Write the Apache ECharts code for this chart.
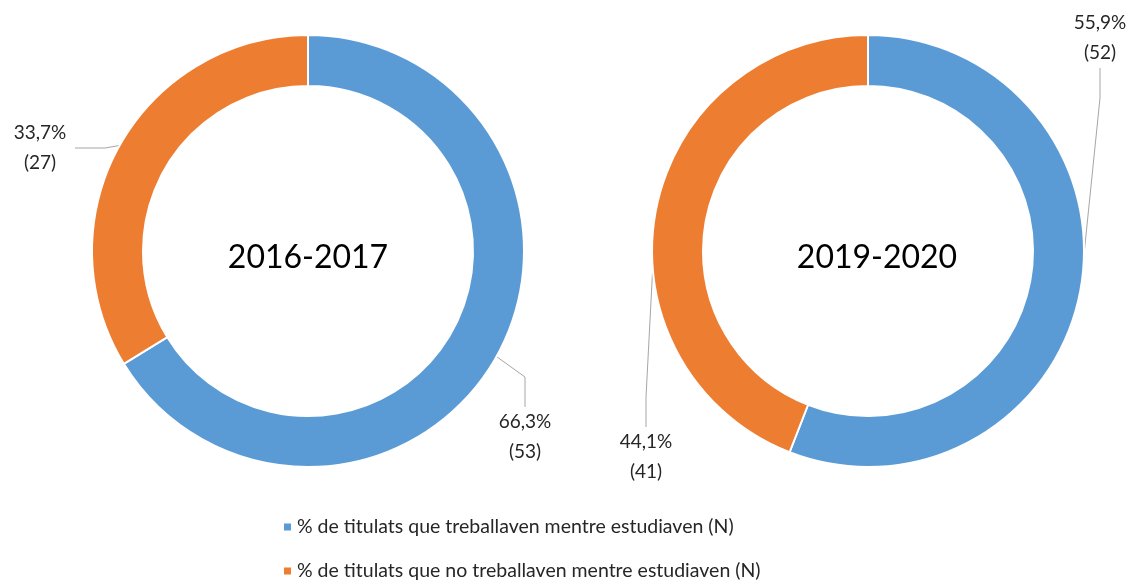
<!DOCTYPE html>
<html>
<head>
<meta charset="utf-8">
<script src="https://cdn.jsdelivr.net/npm/echarts@6/dist/echarts.min.js"></script>
<style>
  html, body { margin: 0; padding: 0; background: #fff; }
  #chart { width: 1137px; height: 588px; }
</style>
</head>
<body>
<div id="chart"></div>
<script>
// data
const categories = [
  "% de titulats que treballaven mentre estudiaven (N)",
  "% de titulats que no treballaven mentre estudiaven (N)"
];
const years = ["2016-2017", "2019-2020"];
const counts1617 = [53, 27];
const pct1617 = ["66,3%", "33,7%"];
const counts1920 = [52, 41];
const pct1920 = ["55,9%", "44,1%"];

const colors = ["#5B9BD5", "#ED7D31"];
const font = "Lato, 'Open Sans', sans-serif";

// label anchor positions (px) per series, per slice
const labelPos = [
  [{ x: 525, y: 437 }, { x: 40, y: 148 }],
  [{ x: 1100, y: 38 }, { x: 646, y: 457 }]
];

const makeSeries = (idx, counts, pct, cx) => ({
  type: "pie",
  center: [cx, 251],
  radius: [165, 216],
  startAngle: 90,
  clockwise: true,
  silent: true,
  itemStyle: { borderColor: "#fff", borderWidth: 2 },
  label: {
    show: true,
    position: "outside",
    color: "#262626",
    fontFamily: font,
    fontSize: 19,
    lineHeight: 30,
    width: 70,
    overflow: "none",
    align: "center",
    formatter: (p) => pct[p.dataIndex] + "\n(" + counts[p.dataIndex] + ")"
  },
  labelLine: {
    show: true,
    lineStyle: { color: "#a6a6a6", width: 1 }
  },
  labelLayout: (p) => ({
    x: labelPos[idx][p.dataIndex].x,
    y: labelPos[idx][p.dataIndex].y,
    align: "center",
    verticalAlign: "middle"
  }),
  data: counts.map((v, i) => ({
    name: categories[i],
    value: v,
    itemStyle: { color: colors[i] }
  }))
});

const chart = echarts.init(document.getElementById("chart"));
chart.setOption({
  backgroundColor: "#fff",
  animation: false,
  title: [
    {
      text: years[0], left: 308, top: 258, padding: 0,
      textAlign: "center", textVerticalAlign: "middle",
      textStyle: { fontFamily: font, fontSize: 32, fontWeight: "normal", color: "#000" }
    },
    {
      text: years[1], left: 877, top: 258, padding: 0,
      textAlign: "center", textVerticalAlign: "middle",
      textStyle: { fontFamily: font, fontSize: 32, fontWeight: "normal", color: "#000" }
    }
  ],
  legend: {
    orient: "vertical",
    left: 277,
    top: 512,
    itemWidth: 9,
    itemHeight: 9,
    itemGap: 24,
    icon: "rect",
    data: categories,
    textStyle: { fontFamily: font, fontSize: 19.5, color: "#262626" }
  },
  series: [
    makeSeries(0, counts1617, pct1617, 308),
    makeSeries(1, counts1920, pct1920, 868)
  ]
});
</script>
</body>
</html>
